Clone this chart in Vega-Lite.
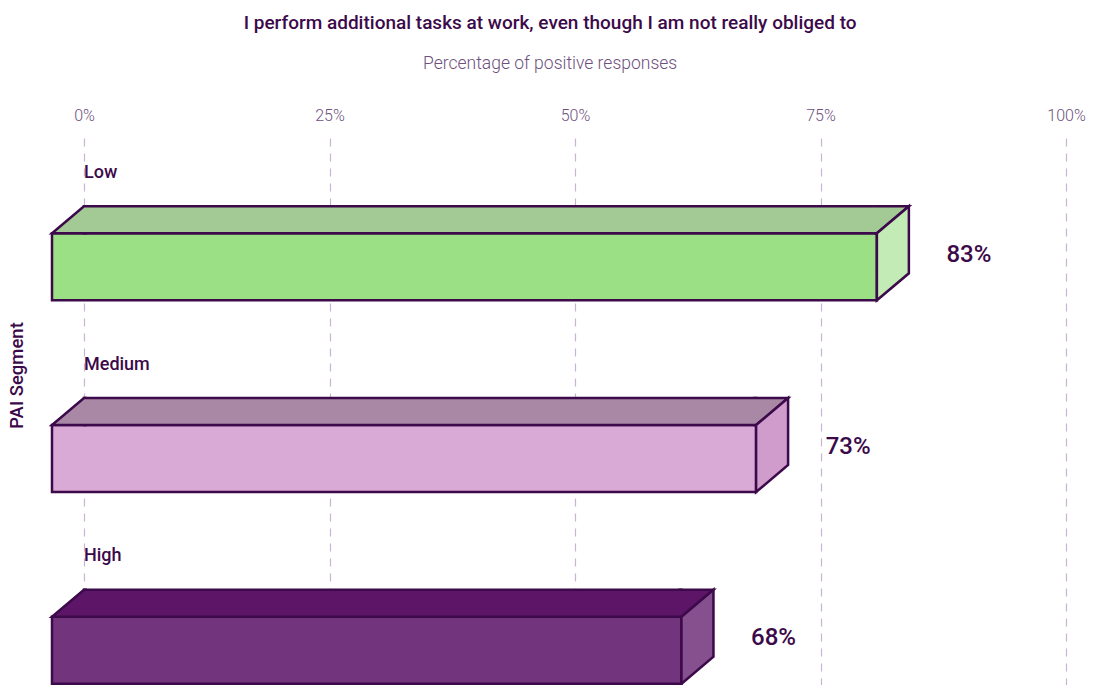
{
  "$schema": "https://vega.github.io/schema/vega-lite/v6.json",
  "autosize": "none",
  "width": 982,
  "height": 641,
  "padding": {"left": 84, "top": 138, "right": 30, "bottom": 0},
  "background": "white",
  "config": {
    "view": {"stroke": null},
    "font": "Roboto"
  },
  "title": {
    "text": "I perform additional tasks at work, even though I am not really obliged to",
    "subtitle": "Percentage of positive responses",
    "anchor": "middle",
    "frame": "bounds",
    "dx": 4,
    "font": "Roboto",
    "fontSize": 19,
    "fontWeight": 500,
    "color": "#3c0a4a",
    "subtitleFont": "Roboto",
    "subtitleFontSize": 17.5,
    "subtitleFontWeight": 300,
    "subtitleColor": "#6e4f7e",
    "subtitlePadding": 22,
    "offset": 35
  },
  "data": {
    "values": [
      {"segment": "Low", "pct": 0.83, "length": 84.0},
      {"segment": "Medium", "pct": 0.73, "length": 71.7},
      {"segment": "High", "pct": 0.68, "length": 64.1}
    ]
  },
  "encoding": {
    "y": {
      "field": "segment",
      "type": "nominal",
      "sort": ["Low", "Medium", "High"],
      "scale": {"paddingInner": 0.651, "paddingOuter": 0.4974},
      "axis": {
        "labels": false,
        "ticks": false,
        "domain": false,
        "grid": false,
        "title": "PAI Segment",
        "titleFont": "Roboto",
        "titleFontSize": 18.5,
        "titleFontWeight": 500,
        "titleColor": "#3c0a4a",
        "titleAngle": -90,
        "titleBaseline": "alphabetic",
        "titleAlign": "center",
        "titleX": -62,
        "titleY": 237
      }
    }
  },
  "layer": [
    {
      "mark": {"type": "bar", "xOffset": -32, "x2Offset": -32, "stroke": "#3c0a4a", "strokeWidth": 2.5},
      "encoding": {
        "x": {
          "field": "length",
          "type": "quantitative",
          "scale": {"domain": [0, 100], "nice": false},
          "axis": {
            "orient": "top",
            "values": [0, 25, 50, 75, 100],
            "labelExpr": "datum.value + '%'",
            "title": null,
            "domain": false,
            "ticks": false,
            "tickSize": 0,
            "labelPadding": 15,
            "labelFlush": false,
            "labelOverlap": false,
            "labelFont": "Roboto",
            "labelFontSize": 16,
            "labelFontWeight": 300,
            "labelColor": "#6e4f7e",
            "grid": true,
            "gridColor": "#c9b4d3",
            "gridDash": [8, 7],
            "gridWidth": 1.2
          }
        },
        "x2": {"datum": 0},
        "fill": {
          "condition": [
            {"test": "datum.segment === 'Low'", "value": "#9be084"},
            {"test": "datum.segment === 'Medium'", "value": "#d8aad5"}
          ],
          "value": "#72357d"
        }
      }
    },
    {
      "mark": {"type": "bar", "height": 27, "yOffset": -47, "xOffset": -32, "x2Offset": 0, "stroke": "#3c0a4a", "strokeWidth": 2.5},
      "encoding": {
        "x": {"field": "length", "type": "quantitative"},
        "x2": {"datum": 0},
        "fill": {
          "condition": [
            {"test": "datum.segment === 'Low'", "value": "#a3c995"},
            {"test": "datum.segment === 'Medium'", "value": "#a888a5"}
          ],
          "value": "#5d1667"
        }
      }
    },
    {
      "mark": {"type": "point", "shape": "M 3 -33.5 L -32 -33.5 L 0 -60.5 L 3 -60.5", "size": 4, "filled": true, "opacity": 1, "stroke": "#3c0a4a", "strokeWidth": 2.5},
      "encoding": {
        "x": {"datum": 0, "type": "quantitative"},
        "fill": {
          "condition": [
            {"test": "datum.segment === 'Low'", "value": "#a3c995"},
            {"test": "datum.segment === 'Medium'", "value": "#a888a5"}
          ],
          "value": "#5d1667"
        }
      }
    },
    {
      "mark": {"type": "point", "shape": "M -35 -60.5 L 0 -60.5 L -32 -33.5 L -35 -33.5", "size": 4, "filled": true, "opacity": 1, "stroke": "#3c0a4a", "strokeWidth": 2.5},
      "encoding": {
        "x": {"field": "length", "type": "quantitative"},
        "fill": {
          "condition": [
            {"test": "datum.segment === 'Low'", "value": "#a3c995"},
            {"test": "datum.segment === 'Medium'", "value": "#a888a5"}
          ],
          "value": "#5d1667"
        }
      }
    },
    {
      "mark": {"type": "point", "shape": "M -32 -33.5 L 0 -60.5 L 0 6.5 L -32 33.5 Z", "size": 4, "filled": true, "opacity": 1, "stroke": "#3c0a4a", "strokeWidth": 2.5},
      "encoding": {
        "x": {"field": "length", "type": "quantitative"},
        "fill": {
          "condition": [
            {"test": "datum.segment === 'Low'", "value": "#c3ebb5"},
            {"test": "datum.segment === 'Medium'", "value": "#cf9ccc"}
          ],
          "value": "#86508f"
        }
      }
    },
    {
      "mark": {"type": "text", "align": "left", "baseline": "middle", "dy": -94, "fontSize": 18, "fontWeight": 500, "color": "#3c0a4a"},
      "encoding": {
        "x": {"datum": 0, "type": "quantitative"},
        "text": {"field": "segment"}
      }
    },
    {
      "mark": {"type": "text", "align": "center", "baseline": "middle", "dx": 60, "dy": -12, "fontSize": 24, "fontWeight": 500, "color": "#3c0a4a"},
      "encoding": {
        "x": {"field": "length", "type": "quantitative"},
        "text": {"field": "pct", "type": "quantitative", "format": ".0%"}
      }
    }
  ]
}
